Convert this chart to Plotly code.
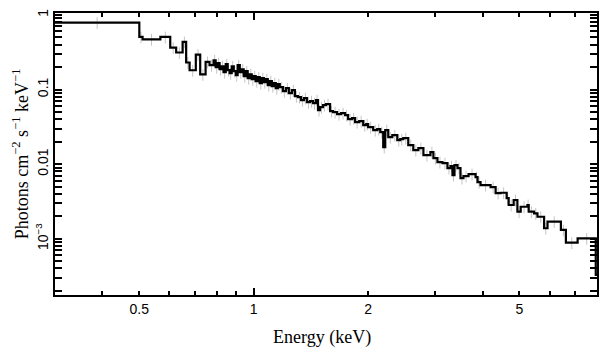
import math
import plotly.graph_objects as go

# Bin lower edges (keV) and unfolded flux (photons cm^-2 s^-1 keV^-1)
e_lo = [0.30, 0.500, 0.510, 0.568, 0.603, 0.625, 0.650, 0.664, 0.678, 0.704, 0.723, 0.747, 0.765,
        0.784, 0.794, 0.804, 0.813, 0.823, 0.833, 0.844, 0.854, 0.864, 0.875, 0.886, 0.897, 0.907,
        0.919, 0.930, 0.941, 0.953, 0.964, 0.976, 0.988, 1.000, 1.012, 1.025, 1.037, 1.050, 1.063,
        1.076, 1.089, 1.102, 1.116, 1.129, 1.143, 1.157,
        1.171, 1.193, 1.215, 1.237, 1.260, 1.283,
        1.307, 1.331, 1.355, 1.380, 1.406, 1.432, 1.458, 1.476, 1.494, 1.521, 1.549, 1.588, 1.617,
        1.657, 1.697, 1.739, 1.771, 1.815, 1.848, 1.894, 1.941, 1.976, 2.000, 2.062, 2.113, 2.152,
        2.191, 2.218, 2.259, 2.315, 2.386, 2.429, 2.474, 2.550, 2.629, 2.711, 2.795, 2.916, 2.970,
        3.043, 3.137, 3.233, 3.293, 3.333, 3.374, 3.436, 3.499, 3.563, 3.674, 3.833, 3.880, 3.951,
        4.199, 4.329, 4.462, 4.628, 4.685, 4.829, 4.939, 5.039, 5.249, 5.290, 5.464, 5.578, 5.806,
        5.928, 6.428, 6.626, 7.114, 7.94]
e_last_hi = 8.2

flux = [0.79, 0.506, 0.471, 0.506, 0.365, 0.313, 0.434, 0.230, 0.181, 0.294, 0.159, 0.234, 0.2115,
        0.2467, 0.1988, 0.2250, 0.1869, 0.2050, 0.1704, 0.2182, 0.1813, 0.1653, 0.2050, 0.1758,
        0.1554, 0.2115, 0.1704, 0.1869, 0.1507, 0.1758, 0.1416, 0.1602, 0.1374, 0.1507, 0.1292,
        0.1461, 0.1215, 0.1416, 0.1252, 0.1374, 0.1142, 0.1292, 0.1107, 0.1215, 0.1041, 0.1177,
        0.1073, 0.0949, 0.1041, 0.0892, 0.0979, 0.0813,
        0.0788, 0.0719, 0.0765, 0.0676, 0.0697, 0.0656, 0.0719, 0.0528, 0.0579, 0.0616, 0.0636,
        0.0512, 0.0497, 0.0467, 0.0482, 0.0453, 0.0400, 0.0413, 0.0365, 0.0376, 0.0333, 0.0343,
        0.0313, 0.0285, 0.0294, 0.0268, 0.0169, 0.0285, 0.0230, 0.0244, 0.0210, 0.0216, 0.0223,
        0.0180, 0.0154, 0.0164, 0.0132, 0.0145, 0.0120, 0.01063, 0.01031, 0.00884, 0.00940,
        0.00712, 0.00970, 0.00884, 0.00649, 0.00691, 0.00735, 0.00670, 0.00574, 0.00524, 0.00492,
        0.00409, 0.00413, 0.00351, 0.00283, 0.00330, 0.00230, 0.00268, 0.00283, 0.00230, 0.00219,
        0.00197, 0.00138, 0.00169, 0.00131, 0.000884, 0.00101, 0.000327]

x_tickvals = [0.5, 1, 2, 5]
x_ticktext = ["0.5", "1", "2", "5"]
y_tickvals = [1, 0.1, 0.01, 0.001]
y_ticktext = ["1", "0.1", "0.01", "10<sup>\u22123</sup>"]
x_title = "Energy (keV)"
y_title = "Photons cm<sup>\u22122</sup> s<sup>\u22121</sup> keV<sup>\u22121</sup>"

assert len(e_lo) == len(flux)

e_hi = e_lo[1:] + [e_last_hi]
e_mid = [(a * b) ** 0.5 for a, b in zip(e_lo, e_hi)]

x_minor = [0.3, 0.4, 0.6, 0.7, 0.8, 0.9, 3, 4, 6, 7, 8]
y_minor = [m * d for d in (1e-4, 1e-3, 1e-2, 1e-1) for m in range(2, 10)]

fig = go.Figure()
# error bars
fig.add_trace(go.Scatter(
    x=e_mid, y=flux, mode="markers",
    marker=dict(size=0.1, color="rgba(0,0,0,0)"),
    error_y=dict(type="percent", value=18, color="#c4c4c4", thickness=1, width=0),
    hoverinfo="skip", showlegend=False))
# step line
fig.add_trace(go.Scatter(
    x=e_lo + [e_last_hi], y=flux + [flux[-1]], mode="lines",
    line=dict(color="black", width=2.2, shape="hv"), showlegend=False))

xr = [math.log10(0.3), math.log10(8.0)]
yr = [math.log10(1.76e-4), math.log10(1.06)]

tickfont = dict(family="Liberation Sans, Arial, sans-serif", size=14, color="black")
serif = "Liberation Serif, Times New Roman, serif"

# page body has an 8px margin, so the figure is sized to fit the 609x357 window
fig.update_layout(
    width=601, height=349,
    margin=dict(l=47, r=12, t=5, b=62),
    paper_bgcolor="white", plot_bgcolor="white",
    xaxis=dict(type="log", range=xr, tickmode="array", tickvals=x_tickvals, ticktext=x_ticktext,
               ticks="inside", ticklen=4, tickwidth=1.5, tickcolor="black", automargin=False,
               showline=True, linecolor="black", linewidth=1.8, mirror="allticks",
               showgrid=False, zeroline=False, tickfont=tickfont,
               minor=dict(tickmode="array", tickvals=x_minor, ticks="inside", ticklen=4,
                          tickwidth=1.5, tickcolor="black", showgrid=False)),
    xaxis2=dict(type="log", range=xr, overlaying="x", anchor="y", side="bottom",
                tickmode="array", tickvals=[1], ticks="inside", ticklen=7, tickwidth=1.5,
                tickcolor="black", showticklabels=False, mirror="allticks", showline=False,
                showgrid=False, zeroline=False, automargin=False),
    yaxis=dict(type="log", range=yr, tickmode="array", tickvals=y_tickvals, ticktext=y_ticktext,
               ticks="inside", ticklen=7, tickwidth=1.5, tickcolor="black", tickangle=-90,
               showline=True, linecolor="black", linewidth=1.8, mirror="allticks",
               showgrid=False, zeroline=False, tickfont=tickfont, automargin=False,
               minor=dict(tickmode="array", tickvals=y_minor, ticks="inside", ticklen=4,
                          tickwidth=1.5, tickcolor="black", showgrid=False)),
    annotations=[
        dict(text=x_title, xref="paper", yref="paper", x=0.4926, y=-0.152,
             xanchor="center", yanchor="middle", showarrow=False,
             font=dict(family=serif, size=18, color="black")),
        dict(text=y_title, xref="paper", yref="paper", x=-0.064, y=0.50,
             xanchor="center", yanchor="middle", showarrow=False, textangle=-90,
             font=dict(family=serif, size=18, color="black")),
    ],
)
# transparent point so xaxis2 is drawn
fig.add_trace(go.Scatter(x=[1], y=[0.1], xaxis="x2", mode="markers",
                         marker=dict(color="rgba(0,0,0,0)", size=0.1), hoverinfo="skip",
                         showlegend=False))

fig.write_html("out.html")
